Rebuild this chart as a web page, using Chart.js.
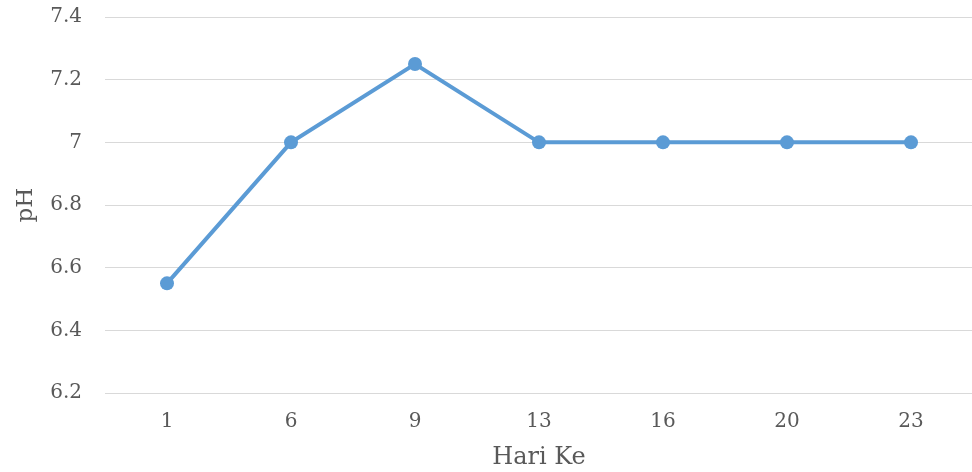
<!DOCTYPE html>
<html>
<head>
<meta charset="utf-8">
<script src="https://cdn.jsdelivr.net/npm/chart.js@4"></script>
<style>
  html, body { margin: 0; padding: 0; background: #fff; overflow: hidden; }
  #wrap { width: 972px; height: 472px; overflow: hidden; }
  #box { width: 980px; height: 472px; }
</style>
</head>
<body>
<div id="wrap"><div id="box"><canvas id="c" width="980" height="472"></canvas></div></div>
<script>
// pH readings per observation day
const days = ['1', '6', '9', '13', '16', '20', '23'];
const phValues = [6.55, 7, 7.25, 7, 7, 7, 7];
const yTicks = [6.2, 6.4, 6.6, 6.8, 7, 7.2, 7.4];

const textColor = '#595959';
const fontFamily = '"DejaVu Serif", "Liberation Serif", serif';

new Chart(document.getElementById('c'), {
  type: 'line',
  data: {
    labels: days,
    datasets: [{
      data: phValues,
      borderColor: '#5B9BD5',
      backgroundColor: '#5B9BD5',
      borderWidth: 4,
      pointRadius: 7,
      pointHoverRadius: 7,
      pointBorderWidth: 0,
      tension: 0
    }]
  },
  options: {
    responsive: false,
    animation: false,
    plugins: { legend: { display: false }, tooltip: { enabled: false } },
    layout: { padding: { top: 17, right: 2, bottom: 0, left: 0 } },
    scales: {
      x: {
        type: 'category',
        offset: true,
        grid: { display: false, drawTicks: false },
        border: { display: false },
        ticks: { color: textColor, font: { family: fontFamily, size: 20 }, padding: 17 },
        title: { display: true, text: 'Hari Ke', color: textColor, font: { family: fontFamily, size: 24 }, padding: { top: 0, bottom: 0 } },
        afterFit: (s) => { s.height = 79; }
      },
      y: {
        min: 6.2,
        max: 7.4,
        afterBuildTicks: (s) => { s.ticks = yTicks.map(v => ({ value: v })); },
        grid: { color: '#d9d9d9', lineWidth: 1, drawTicks: false },
        border: { display: false },
        ticks: {
          color: textColor,
          font: { family: fontFamily, size: 20 },
          padding: 23,
          callback: (v) => String(Math.round(v * 10) / 10)
        },
        title: { display: true, text: 'pH', color: textColor, font: { family: fontFamily, size: 23 }, padding: { top: 12, bottom: 0 } },
        afterFit: (s) => { s.width = 105; s.paddingTop = 0; s.paddingBottom = 0; }
      }
    }
  }
});
</script>
</body>
</html>
